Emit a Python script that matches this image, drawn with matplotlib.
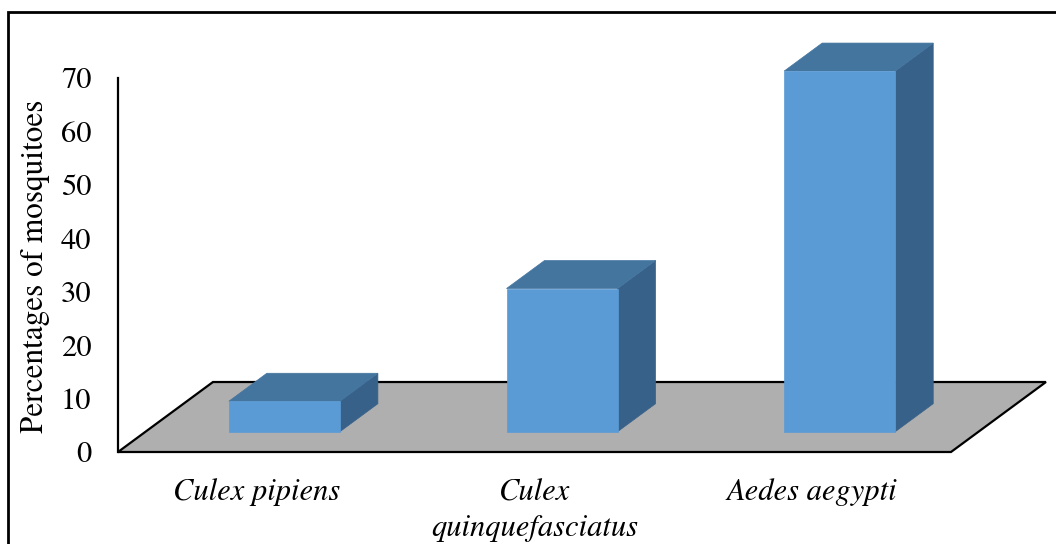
import matplotlib
matplotlib.use("Agg")
import matplotlib.pyplot as plt
from matplotlib.patches import Polygon, Rectangle

# Data
species = ["Culex pipiens", "Culex\nquinquefasciatus", "Aedes aegypti"]
percentages = [5.7, 26.8, 67.5]
y_ticks = [0, 10, 20, 30, 40, 50, 60, 70]
y_label = "Percentages of mosquitoes"

# Colours of the pseudo-3D boxes
FRONT = "#5B9BD5"
TOP = "#44759F"
SIDE = "#386189"
FLOOR = "#AFAFAF"

# Depth vector of the floor (category units, value units)
DEPTH_X, DEPTH_Y = 0.342, 13.1
BAR_FRONT, BAR_BACK = 0.29, 0.69   # bar position within the floor depth
BAR_GAP = 0.3                      # gap on each side of a bar, in category units

plt.rcParams["font.family"] = ["TeX Gyre Termes", "FreeSerif", "STIXGeneral", "DejaVu Serif"]

fig = plt.figure(figsize=(10.56, 5.44), dpi=100)
W, H = 1056, 544
ax = fig.add_axes([118 / W, 1 - 452 / H, 833 / W, 374 / H])
n = len(species)
ax.set_xlim(0, n)
ax.set_ylim(0, 70)

# Floor
floor = Polygon([(0, 0), (n, 0), (n + DEPTH_X, DEPTH_Y), (DEPTH_X, DEPTH_Y)],
                closed=True, facecolor=FLOOR, edgecolor="black", linewidth=1.6,
                clip_on=False, zorder=1, joinstyle="miter")
ax.add_patch(floor)


def box(i, value):
    ox0, oy0 = BAR_FRONT * DEPTH_X, BAR_FRONT * DEPTH_Y
    ox1, oy1 = BAR_BACK * DEPTH_X, BAR_BACK * DEPTH_Y
    x0 = i + BAR_GAP + ox0
    x1 = i + 1 - BAR_GAP + ox0
    yb, yt = oy0, oy0 + value
    ddx, ddy = ox1 - ox0, oy1 - oy0
    front = [(x0, yb), (x1, yb), (x1, yt), (x0, yt)]
    top = [(x0, yt), (x1, yt), (x1 + ddx, yt + ddy), (x0 + ddx, yt + ddy)]
    side = [(x1, yb), (x1 + ddx, yb + ddy), (x1 + ddx, yt + ddy), (x1, yt)]
    for pts, col in ((side, SIDE), (top, TOP), (front, FRONT)):
        ax.add_patch(Polygon(pts, closed=True, facecolor=col, edgecolor=col,
                             linewidth=0.5, clip_on=False, zorder=3))


for i, v in enumerate(percentages):
    box(i, v)

# Axes styling
for s in ("top", "right", "bottom"):
    ax.spines[s].set_visible(False)
ax.spines["left"].set_linewidth(1.6)
ax.spines["left"].set_zorder(5)
ax.patch.set_visible(False)
ax.set_yticks(y_ticks)
ax.set_yticklabels([str(t) for t in y_ticks], fontsize=22)
ax.tick_params(axis="y", length=0, pad=19)
ax.set_xticks([i + 0.5 for i in range(n)])
ax.set_xticklabels(species, fontsize=22, style="italic", linespacing=1.35)
ax.tick_params(axis="x", length=0, pad=19)

fig.text(35 / W, 1 - 266 / H, y_label, rotation=90, ha="center", va="center",
         fontsize=22.5)

# Outer frame of the figure
fig.patches.append(Rectangle((8 / W, -0.1), 1.2, 1 - 12 / H + 0.1,
                             transform=fig.transFigure, fill=False,
                             edgecolor="black", linewidth=2.0))

fig.savefig("out.png", dpi=100)
